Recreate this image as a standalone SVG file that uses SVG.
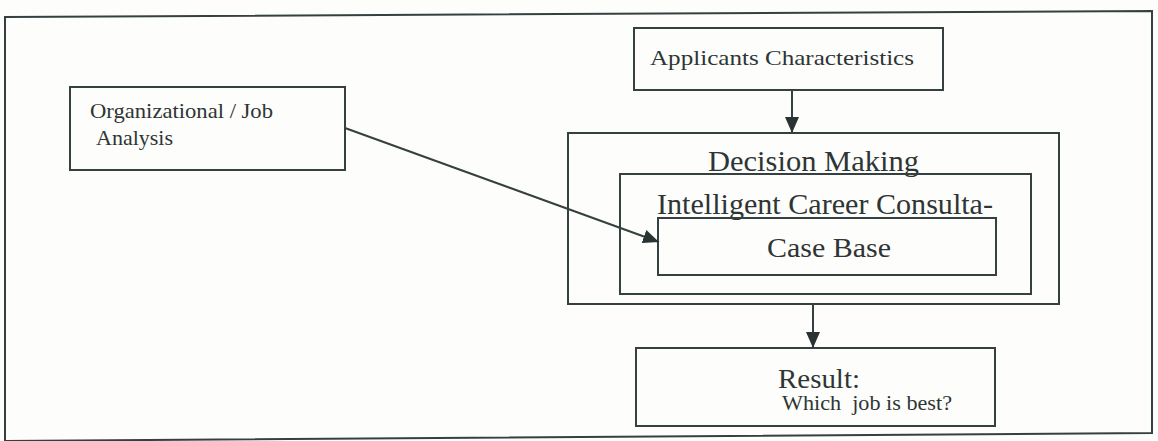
<svg xmlns="http://www.w3.org/2000/svg" width="1158" height="441" viewBox="0 0 1158 441">
<style>
.box{fill:none;stroke:#354040;stroke-width:2}
.ln{fill:none;stroke:#354040;stroke-width:2}
text{font-family:"Liberation Serif","Times New Roman",serif;fill:#2e3535;white-space:pre}
</style>
<defs>
<marker id="ah" viewBox="0 0 16 14" refX="16" refY="7" markerWidth="16" markerHeight="14" markerUnits="userSpaceOnUse" orient="auto">
<path d="M0,0 L16,7 L0,14 Z" fill="#2a3333"/>
</marker>
</defs>
<rect width="1158" height="441" fill="#fdfdfb"/>
<path id="frame" class="box" d="M5,17 L1152,11 L1152,433 L5,441 Z"/>
<g id="applicants">
<rect class="box" x="634" y="28" width="309" height="62"/>
<text x="650" y="65" font-size="22" textLength="264" lengthAdjust="spacingAndGlyphs">Applicants Characteristics</text>
</g>
<g id="org-job">
<rect class="box" x="70" y="87" width="275" height="83"/>
<text x="90" y="118" font-size="21" textLength="183" lengthAdjust="spacingAndGlyphs">Organizational / Job</text>
<text x="96" y="145" font-size="21" textLength="77" lengthAdjust="spacingAndGlyphs">Analysis</text>
</g>
<g id="decision">
<rect class="box" x="568" y="133" width="491" height="171"/>
<text x="708" y="171" font-size="29" textLength="211" lengthAdjust="spacingAndGlyphs">Decision Making</text>
</g>
<g id="intelligent">
<rect class="box" x="620" y="174" width="411" height="120"/>
<text x="657" y="214" font-size="29" textLength="336" lengthAdjust="spacingAndGlyphs">Intelligent Career Consulta-</text>
</g>
<g id="casebase">
<rect class="box" x="658" y="218" width="338" height="57"/>
<text x="767" y="257" font-size="28" textLength="124" lengthAdjust="spacingAndGlyphs">Case Base</text>
</g>
<g id="result">
<rect class="box" x="636" y="348" width="359" height="78"/>
<text x="778" y="388" font-size="27" textLength="82" lengthAdjust="spacingAndGlyphs">Result:</text>
<text x="782" y="410" font-size="20" textLength="170" lengthAdjust="spacingAndGlyphs">Which  job is best?</text>
</g>
<g id="connectors">
<line class="ln" x1="792" y1="90" x2="792" y2="133" marker-end="url(#ah)"/>
<line class="ln" x1="813" y1="304" x2="813" y2="348" marker-end="url(#ah)"/>
<line class="ln" x1="345" y1="128" x2="659" y2="242" marker-end="url(#ah)"/>
</g>
</svg>
